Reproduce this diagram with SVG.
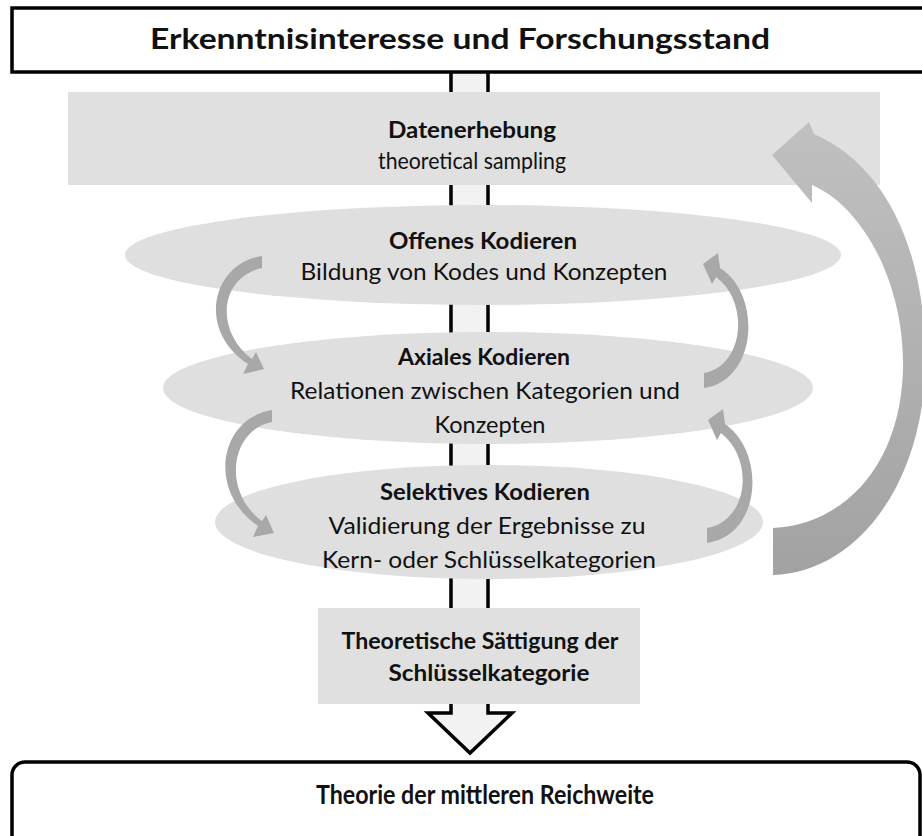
<svg xmlns="http://www.w3.org/2000/svg" width="922" height="836" viewBox="0 0 922 836">
<defs>
<style>
.t{font-family:Lato,"Open Sans","Liberation Sans",sans-serif;fill:#111;text-anchor:middle}
.b{font-weight:bold}
.h{font-size:28px}
.f{font-size:27px}
.m{font-size:22px}
.s{font-size:22.5px}
.box{fill:#fff;stroke:#000;stroke-width:3.5}
.gr{fill:#e0e0e0}
.el{fill:#dfdfdf}
.sa{fill:#a8a8a8}
</style>
<linearGradient id="big" x1="0" y1="0" x2="0" y2="1">
<stop offset="0" stop-color="#c0c0c0"/>
<stop offset="1" stop-color="#a2a2a2"/>
</linearGradient>
</defs>
<rect width="922" height="836" fill="#fff"/>
<g id="connectors">
<path id="shaft" d="M451 72 L451 713 L428 713 L470 753 L512 713 L488 713 L488 72" fill="#f2f2f2" stroke="#000" stroke-width="3.5" stroke-linejoin="miter"/>
</g>
<g id="top">
<rect class="box" x="12" y="8" width="920" height="64"/>
<text class="t b h" x="460" y="49" textLength="620" lengthAdjust="spacingAndGlyphs">Erkenntnisinteresse und Forschungsstand</text>
</g>
<g id="datenerhebung">
<rect class="gr" x="68" y="92" width="812" height="93"/>
<text class="t b m" x="472" y="138" textLength="168" lengthAdjust="spacingAndGlyphs">Datenerhebung</text>
<text class="t s" x="472" y="169" textLength="188" lengthAdjust="spacingAndGlyphs">theoretical sampling</text>
</g>
<g id="offenes">
<ellipse class="el" cx="483" cy="255" rx="358" ry="50"/>
<text class="t b m" x="483" y="249" textLength="188" lengthAdjust="spacingAndGlyphs">Offenes Kodieren</text>
<text class="t s" x="484" y="280" textLength="367" lengthAdjust="spacingAndGlyphs">Bildung von Kodes und Konzepten</text>
</g>
<g id="axiales">
<ellipse class="el" cx="488" cy="388" rx="325" ry="56"/>
<text class="t b m" x="484" y="365" textLength="172" lengthAdjust="spacingAndGlyphs">Axiales Kodieren</text>
<text class="t s" x="485" y="399" textLength="390" lengthAdjust="spacingAndGlyphs">Relationen zwischen Kategorien und</text>
<text class="t s" x="490" y="433" textLength="111" lengthAdjust="spacingAndGlyphs">Konzepten</text>
</g>
<g id="selektives">
<ellipse class="el" cx="489" cy="522" rx="274" ry="57"/>
<text class="t b m" x="485" y="500" textLength="210" lengthAdjust="spacingAndGlyphs">Selektives Kodieren</text>
<text class="t s" x="487" y="534" textLength="317" lengthAdjust="spacingAndGlyphs">Validierung der Ergebnisse zu</text>
<text class="t s" x="489" y="568" textLength="334" lengthAdjust="spacingAndGlyphs">Kern- oder Schlüsselkategorien</text>
</g>
<g id="saettigung">
<rect class="gr" x="318" y="608" width="322" height="96"/>
<text class="t b m" x="480" y="649" textLength="277" lengthAdjust="spacingAndGlyphs">Theoretische Sättigung der</text>
<text class="t b m" x="489" y="681" textLength="201" lengthAdjust="spacingAndGlyphs">Schlüsselkategorie</text>
</g>
<g id="theorie">
<rect class="box" x="12" y="762" width="908" height="100" rx="13"/>
<text class="t b f" x="485" y="804" textLength="338" lengthAdjust="spacingAndGlyphs">Theorie der mittleren Reichweite</text>
</g>
<g id="loops">
<path class="sa" d="M262 256 C212 263 196 330 248 364 L243 374 L264 369 L256 352 L252 359 C214 330 220 277 262 268 Z"/>
<path class="sa" d="M272 410 C220 418 206 490 258 526 L253 537 L274 533 L266 515 L262 521 C222 492 230 430 272 422 Z"/>
<path class="sa" d="M704 373 C744 366 750 302 716 277 L712 284 L703 264 L718 253 L720 268 C762 294 758 380 704 388 Z"/>
<path class="sa" d="M707 528 C748 521 755 460 721 433 L717 440 L708 420 L723 409 L725 424 C766 452 762 535 707 543 Z"/>
<path fill="url(#big)" d="M773 528 C840 525 900 470 903 370 C905 280 860 205 812 185 L812 203 L772 155 L809 122 L814 134 C885 165 928 250 925 370 C922 480 860 572 773 575 Z"/>
</g>
</svg>
